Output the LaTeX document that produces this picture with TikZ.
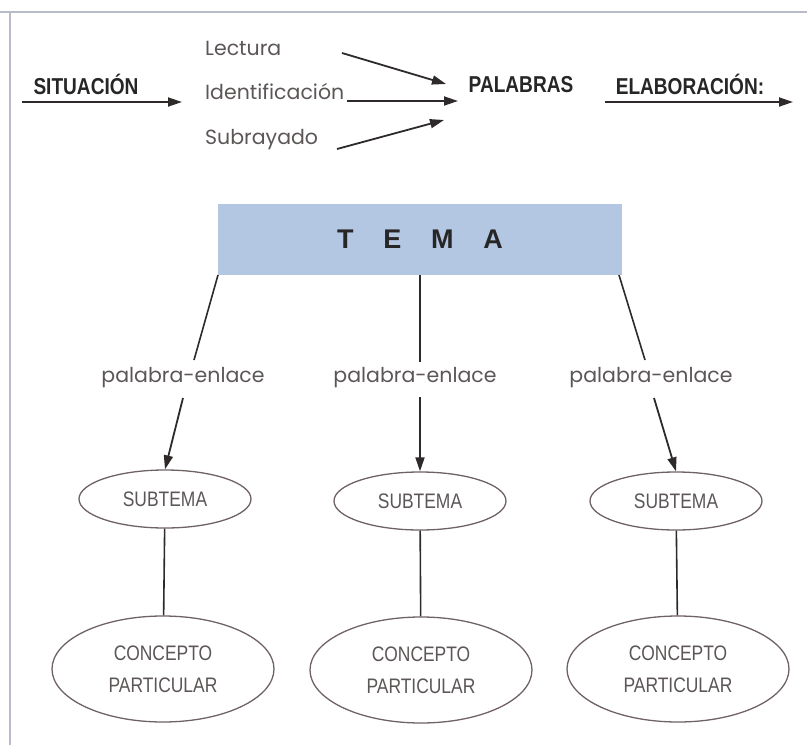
\documentclass[tikz,border=0pt]{standalone}
\usepackage{fontspec}
\setmainfont{Poppins}
\newfontfamily\capsfont{Liberation Sans}
\usetikzlibrary{arrows.meta,shapes.geometric}
\definecolor{txtgray}{HTML}{5C5656}
\definecolor{linecol}{HTML}{2E2A2A}
\definecolor{ellcol}{HTML}{6E6262}
\definecolor{temablue}{HTML}{B3C7E3}
\definecolor{framecol}{HTML}{B8BCC8}
\newcommand{\narrow}[1]{\scalebox{0.83}[1]{#1}}
\tikzset{
  x=1pt, y=-1pt,
  arr/.style={draw=linecol, line width=1.8pt, -{Triangle[length=14pt,width=9pt]}},
  conn/.style={draw=linecol, line width=1.6pt},
  boldlbl/.style={font=\capsfont\bfseries\fontsize{23}{26}\selectfont, text=black!85, inner sep=0pt},
  graylbl/.style={font=\fontsize{20.5}{24}\selectfont, text=txtgray, inner sep=0pt, anchor=west},
  linklbl/.style={font=\fontsize{20.5}{24}\selectfont, text=txtgray, inner sep=0pt},
  subell/.style={ellipse, draw=ellcol, line width=1.3pt, minimum width=172pt, minimum height=58pt, inner sep=0pt,
    font=\capsfont\fontsize{21}{24}\selectfont, text=txtgray},
  conell/.style={ellipse, draw=ellcol, line width=1.3pt, minimum width=222pt, minimum height=106pt, inner sep=0pt,
    font=\capsfont\fontsize{21}{32}\selectfont, text=txtgray, align=center},
}
\begin{document}
\begin{tikzpicture}
\useasboundingbox (0,0) rectangle (807,745);
% frame
\draw[framecol, line width=1.2pt] (0,12) -- (807,12);
\draw[framecol, line width=1.2pt] (10,12) -- (10,745);

% top row
\node[boldlbl] (sit) at (86,84) {\narrow{SITUACIÓN}};
\coordinate (sitA) at (22,102);
\coordinate (sitB) at (182,102);
\draw[arr] (sitA) -- (sitB);

\node[graylbl] (lec) at (205,48) {Lectura};
\node[graylbl] (ide) at (205,92) {Identificación};
\node[graylbl] (sub) at (205,140) {Subrayado};

\node[boldlbl] (pal) at (521,85) {\narrow{PALABRAS}};
\node[boldlbl] (ela) at (690,84) {\narrow{ELABORACIÓN:}};

\coordinate (l1) at (342,53);  \coordinate (l2) at (446,84);
\coordinate (i1) at (347,101); \coordinate (i2) at (458,101);
\coordinate (s1) at (337,149); \coordinate (s2) at (444,120);
\draw[arr] (l1) -- (l2);
\draw[arr] (i1) -- (i2);
\draw[arr] (s1) -- (s2);
\coordinate (e1) at (605,102); \coordinate (e2) at (793,102);
\draw[arr] (e1) -- (e2);

% TEMA
\node[fill=temablue, minimum width=404pt, minimum height=71pt, inner sep=0pt,
      font=\capsfont\bfseries\fontsize{27}{30}\selectfont, text=black!85] (tema) at (420,239)
      {T\hspace{1.1em}E\hspace{1.1em}M\hspace{1.1em}A};

% link labels
\node[linklbl] (pe1) at (183,378) {palabra-enlace};
\node[linklbl] (pe2) at (415,378) {palabra-enlace};
\node[linklbl] (pe3) at (651,378) {palabra-enlace};

% subtema
\node[subell] (st1) at (165,499) {\narrow{SUBTEMA}};
\node[subell] (st2) at (420,501) {\narrow{SUBTEMA}};
\node[subell] (st3) at (676,501) {\narrow{SUBTEMA}};

% concepto
\node[conell] (c1) at (163,669) {\narrow{CONCEPTO}\\\narrow{PARTICULAR}};
\node[conell] (c2) at (421,670) {\narrow{CONCEPTO}\\\narrow{PARTICULAR}};
\node[conell] (c3) at (678,669) {\narrow{CONCEPTO}\\\narrow{PARTICULAR}};

% connectors tema -> label -> subtema
\coordinate (t1) at (218,275);
\coordinate (t2) at (420,275);
\coordinate (t3) at (619,275);
\coordinate (m1) at (194,360);
\coordinate (m2) at (420,362);
\coordinate (m3) at (645,360);
\draw[conn] (t1) -- (m1);
\draw[conn] (t2) -- (m2);
\draw[conn] (t3) -- (m3);
\coordinate (a1) at (183,398);
\coordinate (a2) at (420,397);
\coordinate (a3) at (654,398);
\draw[arr] (a1) -- (st1.north);
\draw[arr] (a2) -- (st2.north);
\draw[arr] (a3) -- (st3.north);

% subtema -> concepto
\draw[conn] (st1) -- (c1);
\draw[conn] (st2) -- (c2);
\draw[conn] (st3) -- (c3);
\end{tikzpicture}
\end{document}
